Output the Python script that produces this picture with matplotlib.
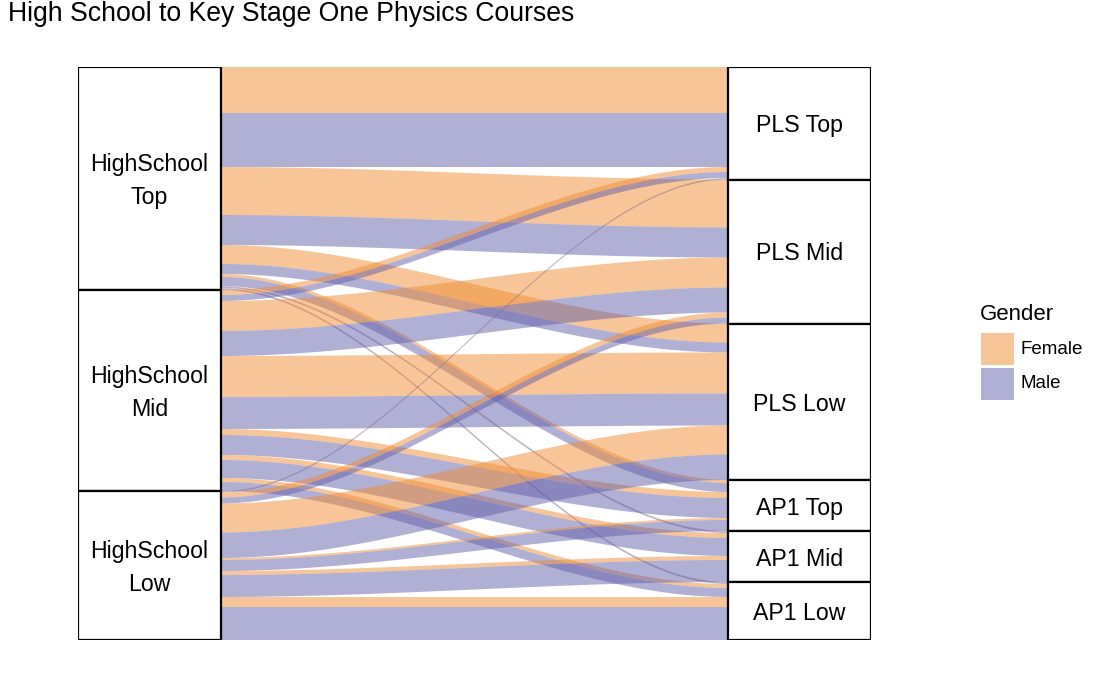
import numpy as np
import matplotlib.pyplot as plt
from matplotlib.patches import Rectangle, Polygon

plt.rcParams['font.family'] = ['Liberation Sans', 'DejaVu Sans']

hs_levels = ['HighSchool\nTop', 'HighSchool\nMid', 'HighSchool\nLow']
ks_levels = ['PLS Top', 'PLS Mid', 'PLS Low', 'AP1 Top', 'AP1 Mid', 'AP1 Low']
genders = ['Female', 'Male']

# rows: high school stratum, columns: key stage one course
female = np.array([
    [46, 48, 19, 3, 0.5, 0.5],
    [5, 30, 41, 6, 5, 4],
    [0.5, 5, 29, 2, 4, 10],
])
male = np.array([
    [54, 30, 10, 9, 1.5, 1.5],
    [6, 25, 32, 20, 18, 9],
    [1, 6, 25.5, 11, 22, 33],
])

gender_colors = ['#F08C32', '#6361AA']
counts = [female, male]

w = 0.22
x_left = 1 + w / 2
x_right = 2 - w / 2

# lode positions on the left axis: by HS stratum, then course, then gender
left_pos = {}
y = 0
for i in range(len(hs_levels)):
    for j in range(len(ks_levels)):
        for g in range(2):
            left_pos[(i, j, g)] = y
            y += counts[g][i, j]
total = y

# lode positions on the right axis: by course, then HS stratum, then gender
right_pos = {}
y = 0
for j in range(len(ks_levels)):
    for i in range(len(hs_levels)):
        for g in range(2):
            right_pos[(i, j, g)] = y
            y += counts[g][i, j]

fig = plt.figure(figsize=(10.94, 6.75), dpi=100)
ax = fig.add_axes([78 / 1094, 35 / 675, 793 / 1094, 573 / 675])

t = np.linspace(0, 1, 80)
s = 3 * t ** 2 - 2 * t ** 3
xs = x_left + (x_right - x_left) * t

for i in range(len(hs_levels)):
    for j in range(len(ks_levels)):
        for g in range(2):
            h = counts[g][i, j]
            if h <= 0:
                continue
            y0 = left_pos[(i, j, g)]
            y1 = right_pos[(i, j, g)]
            top = y0 + (y1 - y0) * s
            bot = top + h
            pts = np.concatenate([np.column_stack([xs, top]),
                                  np.column_stack([xs[::-1], bot[::-1]])])
            ax.add_patch(Polygon(pts, closed=True, facecolor=gender_colors[g],
                                 alpha=0.5, edgecolor='none'))

# strata boxes
hs_tot = female.sum(axis=1) + male.sum(axis=1)
ks_tot = female.sum(axis=0) + male.sum(axis=0)

def draw_strata(xc, totals, labels):
    y = 0
    for v, lab in zip(totals, labels):
        ax.add_patch(Rectangle((xc - w / 2, y), w, v, facecolor='white',
                               edgecolor='black', linewidth=1.6, zorder=3))
        ax.text(xc, y + v / 2 + 2.5, lab, ha='center', va='center', fontsize=16.7,
                linespacing=1.6, zorder=4)
        y += v

draw_strata(1, hs_tot, hs_levels)
draw_strata(2, ks_tot, ks_levels)

ax.set_xlim(1 - w / 2, 2 + w / 2)
ax.set_ylim(total, 0)
ax.axis('off')

fig.text(8 / 1094, 1 - 1 / 675, 'High School to Key Stage One Physics Courses',
         ha='left', va='top', fontsize=19.2)

# legend
fig.text(980 / 1094, 1 - 315 / 675, 'Gender', ha='left', va='center', fontsize=16)
for k, (name, col) in enumerate(zip(genders, gender_colors)):
    ytop = 333 + 35 * k
    fig.add_artist(Rectangle((981 / 1094, 1 - (ytop + 32) / 675), 33 / 1094, 32 / 675,
                             transform=fig.transFigure, facecolor=col, alpha=0.5,
                             edgecolor='none'))
    fig.text(1020 / 1094, 1 - (ytop + 16) / 675, name, ha='left', va='center',
             fontsize=13.5)

fig.savefig('out.png', dpi=100)
